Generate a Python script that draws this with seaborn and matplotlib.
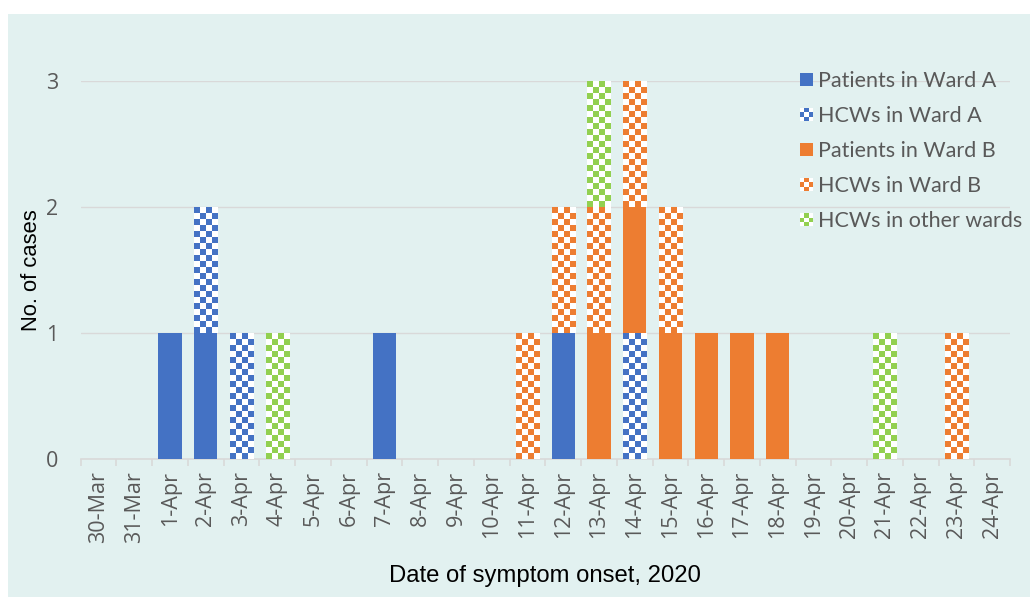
import numpy as np
import pandas as pd
import matplotlib
matplotlib.use("Agg")
import matplotlib.pyplot as plt
import seaborn as sns
from matplotlib.patches import Patch, Rectangle
from matplotlib.legend_handler import HandlerBase
from matplotlib.colors import to_rgba

# ======================= DATA ======================
dates = ["30-Mar", "31-Mar"] + [f"{d}-Apr" for d in range(1, 25)]

patients_a = [0, 0, 1, 1, 0, 0, 0, 0, 1, 0, 0, 0, 0, 1, 0, 0, 0, 0, 0, 0, 0, 0, 0, 0, 0, 0]
hcw_a      = [0, 0, 0, 1, 1, 0, 0, 0, 0, 0, 0, 0, 0, 0, 0, 1, 0, 0, 0, 0, 0, 0, 0, 0, 0, 0]
patients_b = [0, 0, 0, 0, 0, 0, 0, 0, 0, 0, 0, 0, 0, 0, 1, 1, 1, 1, 1, 1, 0, 0, 0, 0, 0, 0]
hcw_b      = [0, 0, 0, 0, 0, 0, 0, 0, 0, 0, 0, 0, 1, 1, 1, 1, 1, 0, 0, 0, 0, 0, 0, 0, 1, 0]
hcw_other  = [0, 0, 0, 0, 0, 1, 0, 0, 0, 0, 0, 0, 0, 0, 1, 0, 0, 0, 0, 0, 0, 0, 1, 0, 0, 0]

series_names = ["Patients in Ward A", "HCWs in Ward A", "Patients in Ward B",
                "HCWs in Ward B", "HCWs in other wards"]
series_values = [patients_a, hcw_a, patients_b, hcw_b, hcw_other]
series_colors = ["#4472C4", "#4472C4", "#ED7D31", "#ED7D31", "#92D050"]
series_checker = [False, True, False, True, True]

TEXT = "#595959"
GRID = "#D9D9D9"
BG = "#E2F1F0"


def checker_fill(ax, patch, color, ncols=4, rows_per_unit=21):
    # replace a bar's fill by a checkerboard clipped to the bar
    x0, y0 = patch.get_x(), patch.get_y()
    w, h = patch.get_width(), patch.get_height()
    nrows = max(1, int(round(h * rows_per_unit)))
    img = np.ones((nrows, ncols, 4))
    c = np.array(to_rgba(color))
    for i in range(nrows):
        for j in range(ncols):
            if (i + j) % 2 == 0:
                img[i, j] = c
    patch.set_facecolor("white")
    patch.set_edgecolor("none")
    im = ax.imshow(img, extent=(x0, x0 + w, y0, y0 + h), origin="lower",
                   interpolation="nearest", aspect="auto", zorder=patch.get_zorder() + 0.1)
    im.set_clip_path(patch)


class CheckerHandler(HandlerBase):
    def __init__(self, color):
        super().__init__()
        self.color = color

    def create_artists(self, legend, orig_handle, xdescent, ydescent,
                       width, height, fontsize, trans):
        s = min(width, height)
        x0 = -xdescent + (width - s) / 2
        y0 = -ydescent + (height - s) / 2
        n = 3
        arts = []
        for i in range(n):
            for j in range(n):
                c = self.color if (i + j) % 2 else "white"
                arts.append(Rectangle((x0 + i * s / n, y0 + j * s / n), s / n, s / n,
                                      facecolor=c, edgecolor="none", transform=trans))
        return arts


# ======================= PLOT ======================
sns.set_theme(style="white")
plt.rcParams["font.family"] = ["Open Sans", "DejaVu Sans"]

fig = plt.figure(figsize=(10.3, 5.97), dpi=100)
fig.patches.append(Rectangle((8 / 1030, 0), 1, 1 - 14 / 597, transform=fig.transFigure,
                             facecolor=BG, edgecolor="none", zorder=-10))
ax = fig.add_axes([80.7 / 1030, 1 - 459 / 597, (1010 - 80.7) / 1030, (459 - 81) / 597])
ax.set_facecolor("none")

bottom = np.zeros(len(dates))
for name, vals, col, chk in zip(series_names, series_values, series_colors, series_checker):
    n_before = len(ax.patches)
    sns.barplot(x=dates, y=vals, bottom=bottom, color=col, saturation=1,
                width=0.65, errorbar=None, order=dates, linewidth=0, ax=ax, zorder=3)
    if chk:
        for p in ax.patches[n_before:]:
            if p.get_height() > 0:
                checker_fill(ax, p, col)
    bottom = bottom + np.array(vals)

ax.set_xlim(-0.5, len(dates) - 0.5)
ax.set_ylim(0, 3)
ax.set_yticks([0, 1, 2, 3])
ax.yaxis.grid(True, color=GRID, linewidth=1)
ax.set_axisbelow(True)
for s in ["top", "right", "left"]:
    ax.spines[s].set_visible(False)
ax.spines["bottom"].set_color(GRID)
ax.spines["bottom"].set_linewidth(1.2)

ax.set_xticks(np.arange(len(dates)))
ax.set_xticklabels(dates, rotation=90)
ax.set_xticks(np.arange(-0.5, len(dates)), minor=True)
ax.tick_params(axis="x", which="major", length=0, pad=8.5, labelsize=15.5, labelcolor=TEXT)
ax.tick_params(axis="x", which="minor", length=5, width=1.2, color=GRID, bottom=True)
ax.tick_params(axis="y", length=0, pad=16, labelsize=15.5, labelcolor=TEXT)

ax.set_xlabel("Date of symptom onset, 2020", fontsize=17.2, color="black", labelpad=16,
              family=["Liberation Sans", "DejaVu Sans"])
ax.set_ylabel("No. of cases", fontsize=15.8, color="black", labelpad=3,
              family=["Liberation Sans", "DejaVu Sans"])

handles = []
hmap = {}
for name, col, chk in zip(series_names, series_colors, series_checker):
    h = Patch(facecolor=col, edgecolor="none", label=name)
    handles.append(h)
    if chk:
        hmap[h] = CheckerHandler(col)

leg = ax.legend(handles=handles, handler_map=hmap, loc="upper left",
                bbox_to_anchor=(800 / 1030, 1 - 71 / 597), bbox_transform=fig.transFigure,
                frameon=False, handlelength=0.6, handleheight=0.6,
                handletextpad=0.23, labelspacing=0.7, borderpad=0, borderaxespad=0,
                prop={"family": ["Lato", "DejaVu Sans"], "size": 15.5}, labelcolor=TEXT)

fig.savefig("out.png", dpi=100)
